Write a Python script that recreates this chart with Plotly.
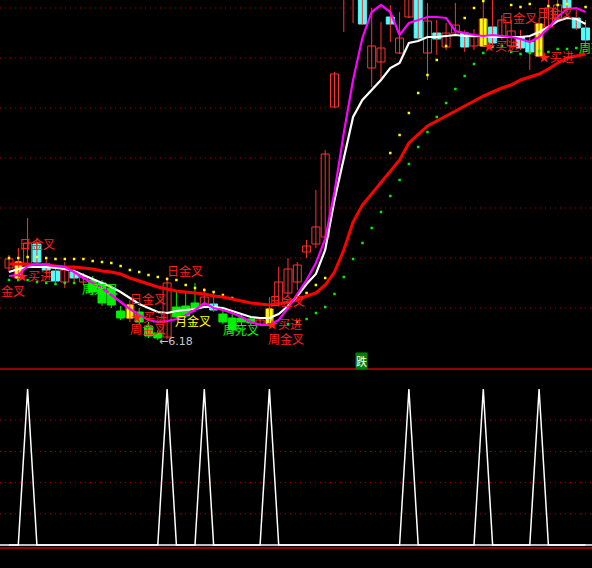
import plotly.graph_objects as go

# ---------------- data (bar index 0..62) ----------------
bars = list(range(63))

open_ = [6.90, 6.80, 6.93, 7.14, 6.94, 6.87, 6.76, 6.86, 6.76, 6.78,
         6.75, 6.70, 6.47, 6.40, 6.46, 6.32, 6.25, 6.21, 6.51, 6.52,
         6.55, 6.53, 6.54, 6.44, 6.40, 6.40, 6.39, 6.34, 6.33, 6.55,
         6.65, 6.76, 7.06, 7.14, 7.21, 8.51, 9.78, 9.68, 9.68, 8.90,
         8.96, 9.41, 9.05, 9.41, 9.68, 9.05, 9.25, 9.11, 9.25, 9.25,
         9.12, 9.12, 9.31, 9.21, 9.12, 9.21, 9.16, 9.02, 9.31, 9.40,
         9.63, 9.40, 9.30]
close = [6.99, 6.96, 7.15, 6.96, 6.88, 6.77, 6.88, 6.80, 6.81, 6.66,
         6.55, 6.53, 6.40, 6.53, 6.36, 6.22, 6.20, 6.75, 6.41, 6.42,
         6.50, 6.61, 6.48, 6.36, 6.28, 6.36, 6.35, 6.38, 6.49, 6.76,
         6.89, 6.93, 7.12, 7.31, 8.04, 8.84, 10.18, 10.08, 9.34, 9.12,
         9.10, 9.34, 9.20, 9.73, 9.20, 9.37, 9.19, 9.25, 9.33, 9.11,
         9.21, 9.39, 9.15, 9.38, 9.27, 9.10, 9.06, 9.34, 9.50, 9.53,
         9.50, 9.30, 9.18]
high = [7.03, 7.10, 7.40, 7.20, 7.00, 6.92, 6.96, 6.90, 6.85, 6.82,
        6.78, 6.73, 6.52, 6.58, 6.50, 6.36, 6.28, 6.81, 6.68, 6.66,
        6.75, 6.70, 6.66, 6.48, 6.44, 6.44, 6.42, 6.41, 6.61, 6.91,
        7.00, 6.96, 7.18, 7.68, 8.08, 8.86, 10.28, 10.18, 9.78, 9.50,
        9.36, 9.53, 9.46, 9.88, 9.78, 9.55, 9.38, 9.35, 9.55, 9.28,
        9.29, 9.62, 9.62, 9.43, 9.38, 9.28, 9.23, 9.40, 9.62, 9.63,
        9.68, 9.48, 9.38]
low = [6.86, 6.77, 6.90, 6.93, 6.84, 6.74, 6.70, 6.76, 6.73, 6.63,
       6.52, 6.50, 6.38, 6.36, 6.33, 6.20, 6.18, 6.19, 6.38, 6.40,
       6.46, 6.50, 6.46, 6.34, 6.24, 6.32, 6.33, 6.32, 6.31, 6.52,
       6.62, 6.68, 7.00, 7.10, 7.18, 8.50, 9.26, 9.35, 9.33, 8.71,
       8.78, 9.16, 9.04, 9.40, 9.18, 8.78, 9.03, 9.08, 9.23, 9.06,
       9.08, 9.11, 9.13, 9.18, 9.10, 9.08, 8.88, 9.01, 9.28, 9.36,
       9.43, 9.28, 9.13]

# bars highlighted in green by the indicator
green_bars = [9, 10, 11, 12, 14, 15, 16, 18, 19, 20, 23, 24, 25, 26]
# buy-signal bars (yellow stick over body)
signal_bars = [1, 13, 28, 51, 57]

ma_fast = [6.82, 6.83, 6.92, 6.94, 6.93, 6.92, 6.91, 6.86, 6.80, 6.75,
           6.70, 6.63, 6.56, 6.49, 6.43, 6.38, 6.36, 6.37, 6.39, 6.43,
           6.48, 6.55, 6.50, 6.48, 6.45, 6.41, 6.36, 6.33, 6.33, 6.38,
           6.50, 6.64, 6.78, 6.95, 7.19, 7.66, 8.25, 8.78, 9.20, 9.46,
           9.53, 9.46, 9.23, 9.35, 9.38, 9.41, 9.41, 9.40, 9.27, 9.25,
           9.23, 9.22, 9.23, 9.22, 9.21, 9.19, 9.16, 9.21, 9.30, 9.41,
           9.49, 9.50, 9.46]
ma_mid = [6.86, 6.89, 6.91, 6.91, 6.91, 6.90, 6.89, 6.87, 6.83, 6.79,
          6.75, 6.71, 6.66, 6.60, 6.54, 6.50, 6.46, 6.45, 6.47, 6.48,
          6.49, 6.51, 6.51, 6.50, 6.47, 6.44, 6.41, 6.40, 6.40, 6.44,
          6.52, 6.62, 6.74, 6.84, 7.08, 7.58, 8.00, 8.41, 8.58, 8.68,
          8.78, 8.90, 8.95, 9.15, 9.17, 9.21, 9.21, 9.22, 9.23, 9.22,
          9.22, 9.22, 9.21, 9.21, 9.21, 9.21, 9.22, 9.26, 9.31, 9.37,
          9.40, 9.39, 9.34]
ma_slow = [6.94, 6.94, 6.94, 6.93, 6.93, 6.92, 6.91, 6.91, 6.90, 6.89,
           6.87, 6.86, 6.84, 6.80, 6.77, 6.74, 6.71, 6.69, 6.67, 6.66,
           6.65, 6.64, 6.62, 6.61, 6.59, 6.57, 6.55, 6.54, 6.53, 6.54,
           6.56, 6.58, 6.62, 6.65, 6.73, 6.86, 7.08, 7.36, 7.53, 7.64,
           7.76, 7.87, 7.98, 8.15, 8.24, 8.32, 8.37, 8.42, 8.47, 8.52,
           8.57, 8.62, 8.66, 8.70, 8.73, 8.78, 8.81, 8.84, 8.89, 8.95,
           9.00, 9.02, 9.04]

dots_yellow = [7.00, 7.00, 7.01, 7.01, 7.00, 6.99, 6.99, 6.99, 6.99, 6.97,
               6.96, 6.95, 6.92, 6.88, 6.86, 6.83, 6.81, 6.79, 6.78, 6.73,
               6.70, 6.68, 6.66, 6.63, 6.60, None, None, None, None, None,
               None, None, 6.65, 6.73, 6.80, None, None, None, None, None,
               None, 8.05, 8.23, 8.45, 8.65, 8.83, 8.98, 9.12, None, 9.40,
               9.50, 9.57, None, None, 9.53, 9.51, 9.54, None, 9.52, 9.53,
               9.54, None, 9.51]
dots_green = [6.78, 6.78, 6.78, 6.76, 6.75, 6.74, 6.75, 6.75, None, None,
              None, None, None, None, None, None, None, None, None, None,
              None, None, None, None, None, None, None, None, None, None,
              6.34, 6.36, 6.39, 6.45, 6.51, 6.64, 6.81, 6.99, 7.15, 7.30,
              7.46, 7.62, 7.78, 7.94, 8.11, 8.26, 8.41, 8.55, 8.69, 8.82,
              8.94, 9.05, 9.11, 9.12, 9.06, 9.04, 9.05, 9.07, 9.06, 9.09,
              9.09, 9.10, None]

# lower panel signal (0..100)
osc = [0, 0, 100, 0, 0, 0, 0, 0, 0, 0,
       0, 0, 0, 0, 0, 0, 0, 100, 0, 0,
       0, 100, 0, 0, 0, 0, 0, 0, 100, 0,
       0, 0, 0, 0, 0, 0, 0, 0, 0, 0,
       0, 0, 0, 100, 0, 0, 0, 0, 0, 0,
       0, 100, 0, 0, 0, 0, 0, 100, 0, 0,
       0, 0, 0]

price_grid = [6.5, 7.0, 7.5, 8.0, 8.5, 9.0, 9.5]
osc_grid = [20, 40, 60, 80]

# labels: text, bar position, price, colour key, anchor
labels = [
    ("日金叉", 3.0, 7.15, "red", "center"),
    ("★买进", 2.69, 6.83, "red", "center"),
    ("周金叉", 1.94, 6.68, "red", "right"),
    ("周死叉", 9.8, 6.70, "green", "center"),
    ("日金叉", 18.9, 6.88, "red", "center"),
    ("日金叉", 14.9, 6.60, "red", "center"),
    ("★买进", 15.05, 6.42, "red", "center"),
    ("周金叉", 14.9, 6.30, "red", "center"),
    ("月金叉", 19.8, 6.38, "yellow", "center"),
    ("周死叉", 24.9, 6.29, "green", "center"),
    ("日金叉", 29.9, 6.58, "red", "center"),
    ("★买进", 29.6, 6.35, "red", "center"),
    ("周金叉", 29.8, 6.20, "red", "center"),
    ("日金叉", 54.8, 9.41, "red", "center"),
    ("日金叉", 58.7, 9.46, "red", "center"),
    ("★买进", 52.9, 9.13, "red", "center"),
    ("★买进", 58.8, 9.02, "red", "center"),
    ("周死叉", 61.08, 9.11, "green", "left"),
]
low_label = ("←6.18", 15.9, 6.17)
fall_label = ("跌", 37.85, 5.97)

# ---------------- styles ----------------
C_UP = "#ff3232"
C_DN = "#54fcfc"
C_GR = "#00f000"
C_YEL = "#ffff00"
C_MA_FAST = "#ff00ff"
C_MA_MID = "#ffffff"
C_MA_SLOW = "#ff0000"
C_GRID = "#b00000"
C_SEP = "#c80000"
TXT = {"red": "#ff2020", "green": "#00ff00", "yellow": "#ffff00"}
CJK = "Noto Sans CJK SC"

fig = go.Figure()

up_idx = [i for i in bars if close[i] >= open_[i] and i not in green_bars]
dn_idx = [i for i in bars if close[i] < open_[i] and i not in green_bars]
gr_idx = [i for i in bars if i in green_bars]


def wick_trace(idx, color):
    xs, ys = [], []
    for i in idx:
        xs += [bars[i], bars[i], None]
        ys += [high[i], low[i], None]
    return go.Scatter(x=xs, y=ys, mode="lines", line=dict(color=color, width=1),
                      hoverinfo="skip", xaxis="x", yaxis="y")


def body_trace(idx, fill, edge, width=0.86):
    return go.Bar(x=[bars[i] for i in idx],
                  y=[max(abs(close[i] - open_[i]), 0.01) for i in idx],
                  base=[min(open_[i], close[i]) for i in idx],
                  width=width,
                  marker=dict(color=fill, line=dict(color=edge, width=1)),
                  hoverinfo="skip", xaxis="x", yaxis="y")


fig.add_trace(wick_trace(up_idx + dn_idx, C_UP))
fig.add_trace(wick_trace(gr_idx, C_GR))
fig.add_trace(body_trace(up_idx, "#000000", C_UP))
fig.add_trace(body_trace(dn_idx, C_DN, C_DN))
fig.add_trace(body_trace(gr_idx, C_GR, C_GR))

# dots
fig.add_trace(go.Scatter(x=bars, y=dots_yellow, mode="markers",
                         marker=dict(symbol="square", size=2.5, color=C_YEL, line=dict(width=0)),
                         hoverinfo="skip", xaxis="x", yaxis="y"))
fig.add_trace(go.Scatter(x=bars, y=dots_green, mode="markers",
                         marker=dict(symbol="square", size=2.5, color=C_GR, line=dict(width=0)),
                         hoverinfo="skip", xaxis="x", yaxis="y"))

# moving averages
fig.add_trace(go.Scatter(x=bars, y=ma_slow, mode="lines", line=dict(color=C_MA_SLOW, width=3),
                         hoverinfo="skip", xaxis="x", yaxis="y"))
fig.add_trace(go.Scatter(x=bars, y=ma_mid, mode="lines", line=dict(color=C_MA_MID, width=2.2),
                         hoverinfo="skip", xaxis="x", yaxis="y"))
fig.add_trace(go.Scatter(x=bars, y=ma_fast, mode="lines", line=dict(color=C_MA_FAST, width=2.2),
                         hoverinfo="skip", xaxis="x", yaxis="y"))

# yellow signal sticks
fig.add_trace(body_trace(signal_bars, C_YEL, C_YEL, width=0.62))

# lower panel
fig.add_trace(go.Scatter(x=bars, y=osc, mode="lines", line=dict(color="#ffffff", width=1.5),
                         hoverinfo="skip", xaxis="x2", yaxis="y2"))

H = 568.0
shapes = []
for p in price_grid:
    shapes.append(dict(type="line", xref="paper", x0=0, x1=1, yref="y", y0=p, y1=p,
                       line=dict(color=C_GRID, width=1, dash="1px,4px"), layer="below"))
for v in osc_grid:
    shapes.append(dict(type="line", xref="paper", x0=0, x1=1, yref="y2", y0=v, y1=v,
                       line=dict(color=C_GRID, width=1, dash="1px,4px"), layer="below"))
# indicator baseline continues across the whole panel
shapes.append(dict(type="line", xref="paper", x0=0, x1=1, yref="y2", y0=min(osc), y1=min(osc),
                   line=dict(color="#ffffff", width=1.5), layer="below"))
for py in (369, 548):
    shapes.append(dict(type="line", xref="paper", x0=0, x1=1, yref="paper",
                       y0=1 - py / H, y1=1 - py / H, line=dict(color=C_SEP, width=1.5)))

annotations = []
for text, xb, py, ck, anc in labels:
    annotations.append(dict(text=text, x=xb, y=py, xref="x", yref="y", showarrow=False,
                            xanchor=anc, yanchor="middle",
                            font=dict(family=CJK, size=12, color=TXT[ck])))
annotations.append(dict(text=low_label[0], x=low_label[1], y=low_label[2], xref="x", yref="y",
                        showarrow=False, xanchor="left", yanchor="middle",
                        font=dict(family="DejaVu Sans", size=11, color="#c8c8c8")))
annotations.append(dict(text=fall_label[0], x=fall_label[1], y=fall_label[2], xref="x", yref="y",
                        showarrow=False, xanchor="center", yanchor="middle", bgcolor="#008000",
                        borderpad=0, font=dict(family=CJK, size=11, color="#ffffff")))

fig.update_layout(
    width=592, height=568,
    margin=dict(l=0, r=0, t=0, b=0),
    paper_bgcolor="#000000", plot_bgcolor="#000000",
    showlegend=False, barmode="overlay",
    xaxis=dict(domain=[0, 1], range=[-0.968, 62.69], visible=False, fixedrange=True),
    xaxis2=dict(domain=[0, 1], range=[-0.968, 62.69], visible=False, anchor="y2", matches="x"),
    yaxis=dict(domain=[1 - 368 / H, 1], range=[5.90, 9.58], visible=False),
    yaxis2=dict(domain=[1 - 548 / H, 1 - 369 / H], range=[-1.923, 112.82], visible=False,
                anchor="x2"),
    shapes=shapes, annotations=annotations,
)

fig.write_html(
    "out.html",
    config={"displayModeBar": False},
    post_script="document.body.style.margin='0';document.body.style.background='#000';",
)
